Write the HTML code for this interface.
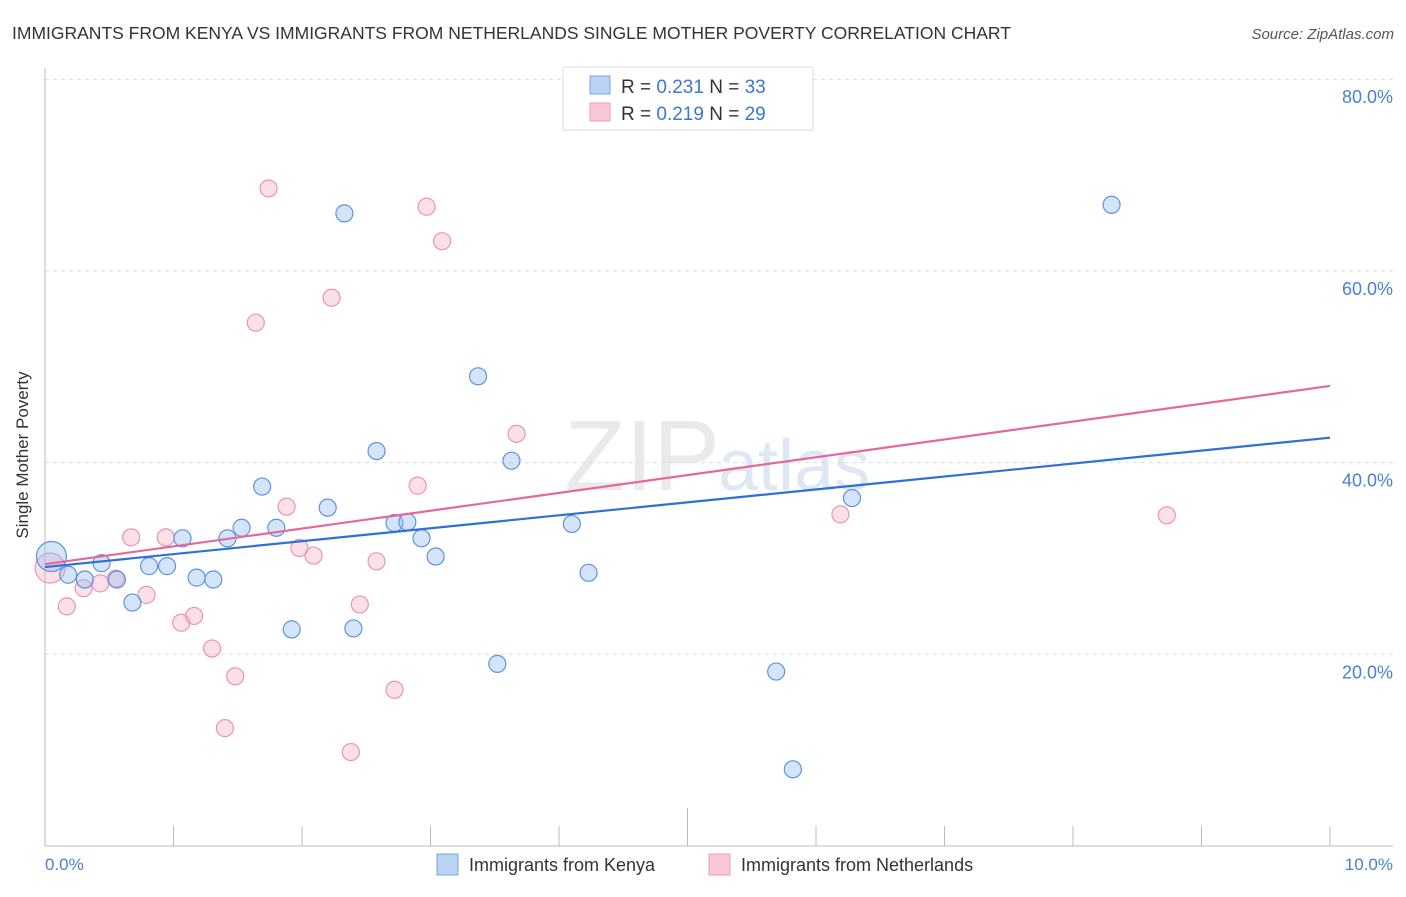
<!DOCTYPE html>
<html><head><meta charset="utf-8"><style>
body{margin:0;background:#fff;font-family:"Liberation Sans",sans-serif;}
svg text{font-family:"Liberation Sans",sans-serif;}
</style></head><body>
<svg width="1406" height="892">
<text x="12" y="39" font-size="17.5" fill="#333">IMMIGRANTS FROM KENYA VS IMMIGRANTS FROM NETHERLANDS SINGLE MOTHER POVERTY CORRELATION CHART</text>
<text x="1394" y="39" font-size="15" fill="#555" font-style="italic" text-anchor="end">Source: ZipAtlas.com</text>
<g id="grid"></g>
<text x="720" y="490" font-size="100" fill="#ddd" text-anchor="end" font-family="Liberation Serif" opacity="0.6">ZIP</text>
<text x="718" y="490" font-size="72" fill="#c9daf0" opacity="0.6">atlas</text>
<g id="axes"></g>
<g id="pts"></g>
<g id="lines"></g>
<text x="28" y="455" font-size="17" fill="#333" text-anchor="middle" transform="rotate(-90 28 455)">Single Mother Poverty</text>
<text x="45" y="870" font-size="17" fill="#4a7fd4">0.0%</text>
<text x="1393" y="870" font-size="17" fill="#4a7fd4" text-anchor="end">10.0%</text>
<g>
<rect x="563" y="67" width="250" height="63" fill="#fff" stroke="#ddd"/>
<rect x="590" y="76" width="20" height="18" fill="#b9d3f5" stroke="#7aa6e2"/>
<rect x="590" y="103" width="20" height="18" fill="#f9c7d7" stroke="#eb9db7"/>
<text x="621" y="93" font-size="19" fill="#333">R = <tspan fill="#3a78d6">0.231</tspan>   N = <tspan fill="#3a78d6">33</tspan></text>
<text x="621" y="120" font-size="19" fill="#333">R = <tspan fill="#3a78d6">0.219</tspan>   N = <tspan fill="#3a78d6">29</tspan></text>
</g>
<g>
<rect x="437" y="854" width="21" height="21" fill="#b9d3f5" stroke="#7aa6e2"/>
<text x="469" y="871" font-size="18" fill="#333">Immigrants from Kenya</text>
<rect x="709" y="854" width="21" height="21" fill="#f9c7d7" stroke="#eb9db7"/>
<text x="741" y="871" font-size="18" fill="#333">Immigrants from Netherlands</text>
</g>
</svg>
<script>
const yTicks=[20,40,60,80];
const yTickLabels=["20.0%","40.0%","60.0%","80.0%"];
const xTicks=[0,1,2,3,4,5,6,7,8,9,10];
const kenyaX=[0.05,0.18,0.31,0.44,0.56,0.68,0.81,0.95,1.07,1.18,1.31,1.42,1.53,1.69,1.80,1.92,2.20,2.33,2.40,2.58,2.72,2.82,2.93,3.04,3.37,3.52,3.63,4.10,4.23,5.69,5.82,6.28,8.30];
const kenyaY=[30.2,28.3,27.8,29.5,27.8,25.4,29.2,29.2,32.1,28.0,27.8,32.1,33.2,37.5,33.2,22.6,35.3,66.0,22.7,41.2,33.7,33.8,32.1,30.2,49.0,19.0,40.2,33.6,28.5,18.2,8.0,36.3,66.9];
const nethX=[0.04,0.17,0.30,0.43,0.55,0.67,0.79,0.94,1.06,1.16,1.30,1.40,1.48,1.64,1.74,1.88,1.98,2.09,2.23,2.38,2.45,2.58,2.72,2.90,2.97,3.09,3.67,6.19,8.73];
const nethY=[29.0,25.0,26.9,27.4,27.9,32.2,26.2,32.2,23.3,24.0,20.6,12.3,17.7,54.6,68.6,35.4,31.1,30.3,57.2,9.8,25.2,29.7,16.3,37.6,66.7,63.1,43.0,34.6,34.5];
const kenyaTrend=[29.1,42.6];
const nethTrend=[29.4,48.0];
const NS="http://www.w3.org/2000/svg";
const X=v=>45+v*128.5;
const Y=v=>846-v*9.585;
function mk(t,a,p){const e=document.createElementNS(NS,t);for(const k in a)e.setAttribute(k,a[k]);p.appendChild(e);return e;}
const grid=document.getElementById('grid'),axes=document.getElementById('axes'),pts=document.getElementById('pts'),lines=document.getElementById('lines');
yTicks.forEach((t,i)=>{
  const l=mk('line',{x1:45,x2:1393,y1:Y(t),y2:Y(t),stroke:'#ddd','stroke-dasharray':'4,4'},grid);
  
  
  const tx=mk('text',{x:1393,y:Y(t)+24,'font-size':18,fill:'#4a7fd4','text-anchor':'end'},grid);
  tx.textContent=yTickLabels[i];
  
  
});
const ya=mk('line',{x1:45,x2:45,y1:68,y2:846,stroke:'#bbb'},axes);


const xa=mk('line',{x1:45,x2:1393,y1:846,y2:846,stroke:'#bbb'},axes);


xTicks.forEach(t=>{
  const tk=mk('line',{x1:X(t),x2:X(t),y1:t===5?808:826,y2:846,stroke:'#bbb'},axes);
  
  
});
function dots(xs,ys,fill,stroke,name){
  xs.forEach((x,i)=>{
    const c=mk('circle',{cx:X(x),cy:Y(ys[i]),r:i===0?15:8.5,fill:fill,stroke:stroke,'stroke-width':1.2},pts);
    
    
  });
}
dots(nethX,nethY,'rgba(245,165,190,0.35)','#e995b1','point-netherlands');
dots(kenyaX,kenyaY,'rgba(150,190,240,0.4)','#5f93df','point-kenya');
const lk=mk('line',{x1:X(0),y1:Y(kenyaTrend[0]),x2:X(10),y2:Y(kenyaTrend[1]),stroke:'#2f6fd6','stroke-width':2.2},lines);


const ln=mk('line',{x1:X(0),y1:Y(nethTrend[0]),x2:X(10),y2:Y(nethTrend[1]),stroke:'#e4699a','stroke-width':2.2},lines);


</script>
</body></html>
